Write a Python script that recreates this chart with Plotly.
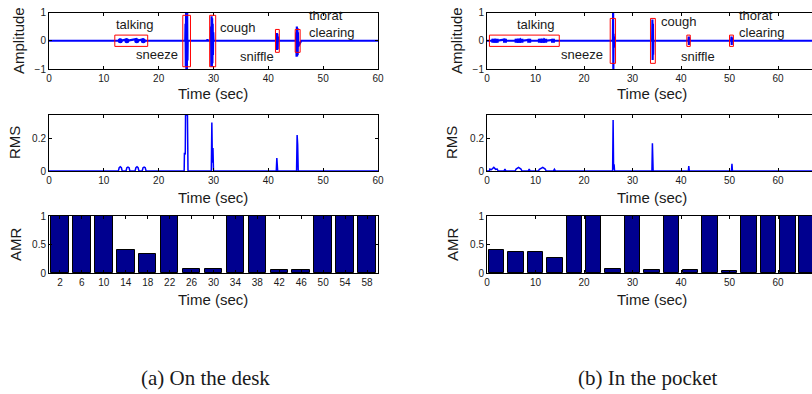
import plotly.graph_objects as go

W, H = 812, 394

# ---------------- data ----------------
# (a) On the desk : amplitude waveform (time sec, amplitude)
desk_wave_t = [0, 12.8, 12.95, 13.05, 13.2, 14.1, 14.2, 14.3, 15.9, 16.0, 16.1, 17.1, 17.2, 17.3,
               24.85, 24.9, 24.95, 25.0, 25.05, 25.1, 25.15, 25.2, 25.25, 25.3,
               28.85, 28.9, 28.95, 29.5, 29.55, 29.6, 29.65, 29.7, 29.75, 29.8, 29.85, 29.9, 29.95, 30.0,
               41.5, 41.55, 41.6, 41.65, 41.7, 41.75, 41.8,
               45.05, 45.1, 45.15, 45.2, 45.25, 45.3, 45.35, 45.4, 45.45, 46.0, 60]
desk_wave_a = [0, 0, 0.06, -0.06, 0, 0.05, -0.05, 0, 0.06, -0.06, 0, 0.05, -0.05, 0,
               0, 0.6, -0.9, 1.0, -1.0, 1.0, -1.0, 1.0, -0.7, 0,
               0, 0.06, 0, 0, 0.5, -0.9, 0.87, -0.92, 0.8, -0.8, 0.6, -0.5, 0.3, 0,
               0, 0.27, -0.33, 0.25, -0.3, 0.15, 0,
               0, 0.3, -0.57, 0.5, -0.55, 0.45, -0.5, 0.3, -0.2, 0, 0]
desk_talk_t = [13.0, 14.2, 16.0, 17.2]
desk_talk_a = [0, 0, 0, 0]

# (b) In the pocket : amplitude waveform
pocket_wave_t = [0, 1.1, 1.3, 1.5, 1.7, 1.9, 2.1, 3.6, 3.7, 3.8, 5.9, 6.1, 6.3, 6.5, 6.7, 6.9, 7.1,
                 8.6, 8.7, 8.8, 10.8, 11.0, 11.2, 11.4, 11.6, 11.8, 12.0, 13.5, 13.6, 13.7,
                 25.95, 26.0, 26.05, 26.1, 26.15, 26.2, 26.25,
                 34.05, 34.1, 34.15, 34.2, 34.25, 34.3,
                 41.55, 41.6, 41.65, 41.7, 41.75,
                 50.35, 50.4, 50.45, 50.5, 50.55, 67]
pocket_wave_a = [0, 0, 0.05, -0.05, 0.06, -0.05, 0, 0.04, -0.04, 0, 0, 0.05, -0.05, 0.06, -0.05, 0.04, 0,
                 0.03, -0.03, 0, 0, 0.05, -0.05, 0.06, -0.05, 0.04, 0, 0.03, -0.03, 0,
                 0, 1.0, -1.0, 0.25, -0.25, 0.15, 0,
                 0, 0.75, -0.68, 0.6, -0.5, 0,
                 0, 0.15, -0.15, 0.12, 0,
                 0, 0.15, -0.15, 0.1, 0, 0]
pocket_talk_t = [1.3, 2.0, 3.7, 6.1, 6.6, 7.1, 8.7, 10.9, 11.5, 12.0, 13.6]
pocket_talk_a = [0, 0, 0, 0, 0, 0, 0, 0, 0, 0, 0]

# event boxes  [x0, x1, y0, y1]
desk_box_x0 = [12.0, 24.4, 29.3, 41.3, 44.9]
desk_box_x1 = [18.0, 25.8, 30.4, 42.0, 45.8]
desk_box_y0 = [-0.2, -0.92, -0.92, -0.41, -0.41]
desk_box_y1 = [0.2, 0.9, 0.9, 0.4, 0.4]
pocket_box_x0 = [0.5, 25.4, 33.7, 41.2, 50.0]
pocket_box_x1 = [14.9, 26.5, 34.7, 41.9, 50.8]
pocket_box_y0 = [-0.2, -0.8, -0.8, -0.2, -0.2]
pocket_box_y1 = [0.2, 0.79, 0.79, 0.2, 0.2]

# event labels: text, x, y, anchor
desk_lbl_text = ["talking", "sneeze", "cough", "sniffle", "thorat<br>clearing"]
desk_lbl_x = [15.6, 23.9, 30.9, 41.4, 47.0]
desk_lbl_y = [0.56, -0.5, 0.47, -0.54, 0.6]
desk_lbl_anchor = ["center", "right", "left", "right", "left"]
pocket_lbl_text = ["talking", "sneeze", "cough", "sniffle", "thorat<br>clearing"]
pocket_lbl_x = [10.1, 24.4, 35.5, 43.6, 51.5]
pocket_lbl_y = [0.57, -0.5, 0.69, -0.54, 0.61]
pocket_lbl_anchor = ["center", "right", "left", "center", "left"]

# RMS
desk_rms_t = [0, 12.65, 12.8, 13.0, 13.2, 13.35, 14.05, 14.2, 14.4, 14.6, 14.75,
              15.7, 15.85, 16.05, 16.25, 16.4, 17.0, 17.15, 17.35, 17.55, 17.7,
              24.65, 24.7, 24.85, 24.9, 25.25, 25.35,
              29.6, 29.7, 29.8, 29.9, 30.0,
              41.45, 41.55, 41.7,
              45.15, 45.25, 45.35, 45.45, 60]
desk_rms_v = [0, 0, 0.02, 0.026, 0.02, 0, 0, 0.02, 0.024, 0.02, 0,
              0, 0.02, 0.026, 0.02, 0, 0, 0.02, 0.024, 0.02, 0,
              0, 0.11, 0.1, 0.34, 0.34, 0,
              0, 0.295, 0.05, 0.14, 0,
              0, 0.079, 0,
              0, 0.218, 0.16, 0, 0]
pocket_rms_t = [0, 0.5, 0.6, 0.9, 1.4, 1.8, 2.1, 2.3, 3.5, 3.7, 3.9, 5.8, 6.0, 6.5, 7.0, 7.2,
                8.5, 8.7, 8.9, 10.6, 10.8, 11.5, 12.0, 12.2, 13.7, 13.9, 14.1,
                25.9, 26.0, 26.1, 26.2, 26.3,
                34.0, 34.1, 34.25,
                41.5, 41.6, 41.7,
                50.4, 50.5, 50.6, 67]
pocket_rms_v = [0, 0, 0.012, 0.008, 0.022, 0.01, 0.012, 0, 0, 0.012, 0, 0, 0.012, 0.022, 0.012, 0,
                0, 0.012, 0, 0, 0.01, 0.022, 0.012, 0, 0, 0.01, 0,
                0, 0.31, 0.01, 0.04, 0,
                0, 0.168, 0,
                0, 0.03, 0,
                0, 0.043, 0, 0]

# AMR bars
desk_amr_t = [2, 6, 10, 14, 18, 22, 26, 30, 34, 38, 42, 46, 50, 54, 58]
desk_amr_v = [1, 1, 1, 0.40, 0.33, 1, 0.07, 0.07, 1, 1, 0.05, 0.06, 1, 1, 1]
pocket_amr_t = [2, 6, 10, 14, 18, 22, 26, 30, 34, 38, 42, 46, 50, 54, 58, 62, 66]
pocket_amr_v = [0.41, 0.37, 0.36, 0.27, 1, 1, 0.07, 1, 0.06, 1, 0.06, 1, 0.04, 1, 1, 1, 1]

desk_ticks = [0, 10, 20, 30, 40, 50, 60]
pocket_ticks = [0, 10, 20, 30, 40, 50, 60]

# ---------------- layout helpers ----------------
def fx(p):
    return p / W

def fy(p):
    return 1 - p / H

LX = [fx(49), fx(378)]
RX = [fx(487), 1.0]
ROWS = [[fy(69), fy(12.5)], [fy(171), fy(115)], [fy(273), fy(216)]]

BLUE = "#0000FF"
NAVY = "#00008F"
FONT = "Liberation Sans"
TXT = "#1a1a1a"

fig = go.Figure()

def ax_style(**kw):
    d = dict(showline=True, linecolor="black", linewidth=1, mirror="allticks",
             ticks="inside", ticklen=3, tickcolor="black", showgrid=False,
             zeroline=False, tickfont=dict(family=FONT, size=10, color=TXT))
    d.update(kw)
    return d

# top row: amplitude
fig.add_trace(go.Scatter(x=desk_wave_t, y=desk_wave_a, mode="lines",
                         line=dict(color=BLUE, width=2.2, simplify=False),
                         xaxis="x", yaxis="y", showlegend=False))
fig.add_trace(go.Scatter(x=desk_talk_t, y=desk_talk_a, mode="markers",
                         marker=dict(color=BLUE, size=5),
                         xaxis="x", yaxis="y", showlegend=False))
fig.add_trace(go.Scatter(x=pocket_wave_t, y=pocket_wave_a, mode="lines",
                         line=dict(color=BLUE, width=2.2, simplify=False),
                         xaxis="x2", yaxis="y2", showlegend=False))
fig.add_trace(go.Scatter(x=pocket_talk_t, y=pocket_talk_a, mode="markers",
                         marker=dict(color=BLUE, size=4, symbol="square"),
                         xaxis="x2", yaxis="y2", showlegend=False))

# middle row: RMS
fig.add_trace(go.Scatter(x=desk_rms_t, y=desk_rms_v, mode="lines",
                         line=dict(color=BLUE, width=1.5, simplify=False),
                         xaxis="x3", yaxis="y3", showlegend=False))
fig.add_trace(go.Scatter(x=pocket_rms_t, y=pocket_rms_v, mode="lines",
                         line=dict(color=BLUE, width=1.5, simplify=False),
                         xaxis="x4", yaxis="y4", showlegend=False))

# bottom row: AMR
fig.add_trace(go.Bar(x=desk_amr_t, y=desk_amr_v, width=3.2,
                     marker=dict(color=NAVY, line=dict(color="black", width=1)),
                     xaxis="x5", yaxis="y5", showlegend=False))
fig.add_trace(go.Bar(x=pocket_amr_t, y=pocket_amr_v, width=3.2,
                     marker=dict(color=NAVY, line=dict(color="black", width=1)),
                     xaxis="x6", yaxis="y6", showlegend=False))

# boxes
shapes = []
for x0, x1, y0, y1 in zip(desk_box_x0, desk_box_x1, desk_box_y0, desk_box_y1):
    shapes.append(dict(type="rect", xref="x", yref="y", x0=x0, x1=x1, y0=y0, y1=y1,
                       line=dict(color="#FF0000", width=1)))
for x0, x1, y0, y1 in zip(pocket_box_x0, pocket_box_x1, pocket_box_y0, pocket_box_y1):
    shapes.append(dict(type="rect", xref="x2", yref="y2", x0=x0, x1=x1, y0=y0, y1=y1,
                       line=dict(color="#FF0000", width=1)))

ann = []
for t, x, y, a in zip(desk_lbl_text, desk_lbl_x, desk_lbl_y, desk_lbl_anchor):
    ann.append(dict(text=t, x=x, y=y, xref="x", yref="y", xanchor=a, yanchor="middle",
                    showarrow=False, align="left",
                    font=dict(family=FONT, size=13, color=TXT)))
for t, x, y, a in zip(pocket_lbl_text, pocket_lbl_x, pocket_lbl_y, pocket_lbl_anchor):
    ann.append(dict(text=t, x=x, y=y, xref="x2", yref="y2", xanchor=a, yanchor="middle",
                    showarrow=False, align="left",
                    font=dict(family=FONT, size=13, color=TXT)))

def paper_text(t, x, y, size=15, angle=0, family=FONT):
    ann.append(dict(text=t, x=fx(x), y=fy(y), xref="paper", yref="paper",
                    xanchor="center", yanchor="middle", showarrow=False, textangle=angle,
                    font=dict(family=family, size=size, color=TXT)))

# axis titles
paper_text("Amplitude", 18, 41, angle=-90)
paper_text("RMS", 15, 143, angle=-90)
paper_text("AMR", 15, 244, angle=-90)
paper_text("Amplitude", 456, 41, angle=-90)
paper_text("RMS", 452, 143, angle=-90)
paper_text("AMR", 452, 244, angle=-90)
for yy in (93, 198, 299):
    paper_text("Time (sec)", 213, yy)
    paper_text("Time (sec)", 652, yy)
paper_text("(a) On the desk", 205, 378, size=21, family="Liberation Serif")
paper_text("(b) In the pocket", 648, 378, size=21, family="Liberation Serif")

layout = dict(
    width=W, height=H, margin=dict(l=0, r=0, t=0, b=0, autoexpand=False),
    paper_bgcolor="white", plot_bgcolor="white", bargap=0,
    shapes=shapes, annotations=ann,
    xaxis=ax_style(domain=LX, range=[0, 60], tickvals=desk_ticks, anchor="y"),
    yaxis=ax_style(domain=ROWS[0], range=[-1, 1], tickvals=[-1, 0, 1], anchor="x"),
    xaxis2=ax_style(domain=RX, range=[0, 67], tickvals=pocket_ticks, anchor="y2"),
    yaxis2=ax_style(domain=ROWS[0], range=[-1, 1], tickvals=[-1, 0, 1], anchor="x2", mirror=False),
    xaxis3=ax_style(domain=LX, range=[0, 60], tickvals=desk_ticks, anchor="y3"),
    yaxis3=ax_style(domain=ROWS[1], range=[0, 0.34], tickvals=[0, 0.2], anchor="x3"),
    xaxis4=ax_style(domain=RX, range=[0, 67], tickvals=pocket_ticks, anchor="y4"),
    yaxis4=ax_style(domain=ROWS[1], range=[0, 0.34], tickvals=[0, 0.2], anchor="x4", mirror=False),
    xaxis5=ax_style(domain=LX, range=[0, 60], tickvals=desk_amr_t, anchor="y5"),
    yaxis5=ax_style(domain=ROWS[2], range=[0, 1], tickvals=[0, 0.5, 1], anchor="x5"),
    xaxis6=ax_style(domain=RX, range=[0, 67], tickvals=pocket_ticks, anchor="y6"),
    yaxis6=ax_style(domain=ROWS[2], range=[0, 1], tickvals=[0, 0.5, 1], anchor="x6", mirror=False),
)
fig.update_layout(**layout)
fig.write_html("out.html", config={"displayModeBar": False},
               post_script="document.body.style.margin='0';document.body.style.overflow='hidden';")
